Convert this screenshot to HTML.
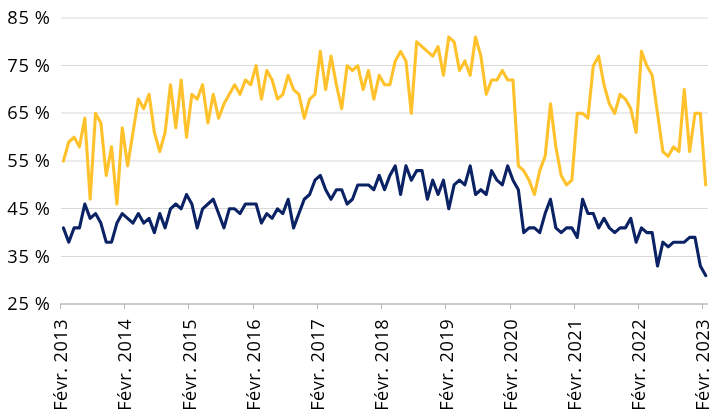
<!DOCTYPE html>
<html><head><meta charset="utf-8"><style>
html,body{margin:0;padding:0;background:#fff;}
body{width:718px;height:417px;overflow:hidden;}
svg{display:block;}
.yl{font-family:'Open Sans','Liberation Sans',sans-serif;font-size:18.3px;letter-spacing:0.6px;fill:#000;}
.xl{font-family:'Open Sans','Liberation Sans',sans-serif;font-size:18.2px;letter-spacing:0.45px;fill:#000;}
</style></head><body>
<svg width="718" height="417" viewBox="0 0 718 417">
<line x1="61" x2="708" y1="18.00" y2="18.00" stroke="#D9D9D9" stroke-width="1"/>
<line x1="61" x2="708" y1="65.50" y2="65.50" stroke="#D9D9D9" stroke-width="1"/>
<line x1="61" x2="708" y1="113.00" y2="113.00" stroke="#D9D9D9" stroke-width="1"/>
<line x1="61" x2="708" y1="161.00" y2="161.00" stroke="#D9D9D9" stroke-width="1"/>
<line x1="61" x2="708" y1="208.50" y2="208.50" stroke="#D9D9D9" stroke-width="1"/>
<line x1="61" x2="708" y1="256.50" y2="256.50" stroke="#D9D9D9" stroke-width="1"/>
<rect x="61" y="303" width="647" height="2" fill="#CCCCCC"/>
<rect x="60" y="303.5" width="1" height="5.5" fill="#B6B6B6"/>
<rect x="124" y="303.5" width="1" height="5.5" fill="#B6B6B6"/>
<rect x="188" y="303.5" width="1" height="5.5" fill="#B6B6B6"/>
<rect x="253" y="303.5" width="1" height="5.5" fill="#B6B6B6"/>
<rect x="317" y="303.5" width="1" height="5.5" fill="#B6B6B6"/>
<rect x="381" y="303.5" width="1" height="5.5" fill="#B6B6B6"/>
<rect x="445" y="303.5" width="1" height="5.5" fill="#B6B6B6"/>
<rect x="510" y="303.5" width="1" height="5.5" fill="#B6B6B6"/>
<rect x="574" y="303.5" width="1" height="5.5" fill="#B6B6B6"/>
<rect x="638" y="303.5" width="1" height="5.5" fill="#B6B6B6"/>
<rect x="702" y="303.5" width="1" height="5.5" fill="#B6B6B6"/>
<polyline points="63.40,161.10 68.75,142.02 74.11,137.25 79.46,146.79 84.81,118.17 90.16,199.26 95.52,113.40 100.87,122.94 106.22,175.41 111.57,146.79 116.92,204.03 122.28,127.71 127.63,165.87 132.98,132.48 138.34,99.09 143.69,108.63 149.04,94.32 154.39,132.48 159.75,151.56 165.10,132.48 170.45,84.78 175.80,127.71 181.16,80.01 186.51,137.25 191.86,94.32 197.21,99.09 202.56,84.78 207.92,122.94 213.27,94.32 218.62,118.17 223.97,103.86 229.33,94.32 234.68,84.78 240.03,94.32 245.39,80.01 250.74,84.78 256.09,65.70 261.44,99.09 266.80,70.47 272.15,80.01 277.50,99.09 282.85,94.32 288.20,75.24 293.56,89.55 298.91,94.32 304.26,118.17 309.62,99.09 314.97,94.32 320.32,51.39 325.67,89.55 331.02,56.16 336.38,84.78 341.73,108.63 347.08,65.70 352.44,70.47 357.79,65.70 363.14,89.55 368.49,70.47 373.84,99.09 379.20,75.24 384.55,84.78 389.90,84.78 395.25,60.93 400.61,51.39 405.96,60.93 411.31,113.40 416.66,41.85 422.02,46.62 427.37,51.39 432.72,56.16 438.07,46.62 443.43,75.24 448.78,37.08 454.13,41.85 459.48,70.47 464.84,60.93 470.19,75.24 475.54,37.08 480.89,56.16 486.25,94.32 491.60,80.01 496.95,80.01 502.31,70.47 507.66,80.01 513.01,80.01 518.36,165.87 523.72,170.64 529.07,180.18 534.42,194.49 539.77,170.64 545.12,156.33 550.48,103.86 555.83,146.79 561.18,175.41 566.53,184.95 571.89,180.18 577.24,113.40 582.59,113.40 587.94,118.17 593.30,65.70 598.65,56.16 604.00,84.78 609.36,103.86 614.71,113.40 620.06,94.32 625.41,99.09 630.76,108.63 636.12,132.48 641.47,51.39 646.82,65.70 652.17,75.24 657.53,113.40 662.88,151.56 668.23,156.33 673.59,146.79 678.94,151.56 684.29,89.55 689.64,151.56 695.00,113.40 700.35,113.40 705.70,184.95" fill="none" stroke="#FFC22C" stroke-width="3.1" stroke-linejoin="round" stroke-linecap="round"/>
<polyline points="63.40,227.88 68.75,242.19 74.11,227.88 79.46,227.88 84.81,204.03 90.16,218.34 95.52,213.57 100.87,223.11 106.22,242.19 111.57,242.19 116.92,223.11 122.28,213.57 127.63,218.34 132.98,223.11 138.34,213.57 143.69,223.11 149.04,218.34 154.39,232.65 159.75,213.57 165.10,227.88 170.45,208.80 175.80,204.03 181.16,208.80 186.51,194.49 191.86,204.03 197.21,227.88 202.56,208.80 207.92,204.03 213.27,199.26 218.62,213.57 223.97,227.88 229.33,208.80 234.68,208.80 240.03,213.57 245.39,204.03 250.74,204.03 256.09,204.03 261.44,223.11 266.80,213.57 272.15,218.34 277.50,208.80 282.85,213.57 288.20,199.26 293.56,227.88 298.91,213.57 304.26,199.26 309.62,194.49 314.97,180.18 320.32,175.41 325.67,189.72 331.02,199.26 336.38,189.72 341.73,189.72 347.08,204.03 352.44,199.26 357.79,184.95 363.14,184.95 368.49,184.95 373.84,189.72 379.20,175.41 384.55,189.72 389.90,175.41 395.25,165.87 400.61,194.49 405.96,165.87 411.31,180.18 416.66,170.64 422.02,170.64 427.37,199.26 432.72,180.18 438.07,194.49 443.43,180.18 448.78,208.80 454.13,184.95 459.48,180.18 464.84,184.95 470.19,165.87 475.54,194.49 480.89,189.72 486.25,194.49 491.60,170.64 496.95,180.18 502.31,184.95 507.66,165.87 513.01,180.18 518.36,189.72 523.72,232.65 529.07,227.88 534.42,227.88 539.77,232.65 545.12,213.57 550.48,199.26 555.83,227.88 561.18,232.65 566.53,227.88 571.89,227.88 577.24,237.42 582.59,199.26 587.94,213.57 593.30,213.57 598.65,227.88 604.00,218.34 609.36,227.88 614.71,232.65 620.06,227.88 625.41,227.88 630.76,218.34 636.12,242.19 641.47,227.88 646.82,232.65 652.17,232.65 657.53,266.04 662.88,242.19 668.23,246.96 673.59,242.19 678.94,242.19 684.29,242.19 689.64,237.42 695.00,237.42 700.35,266.04 705.70,275.58" fill="none" stroke="#0B2364" stroke-width="3.1" stroke-linejoin="round" stroke-linecap="round"/>
<text x="50.5" y="24.00" text-anchor="end" class="yl">85 %</text>
<text x="50.5" y="71.70" text-anchor="end" class="yl">75 %</text>
<text x="50.5" y="119.40" text-anchor="end" class="yl">65 %</text>
<text x="50.5" y="167.10" text-anchor="end" class="yl">55 %</text>
<text x="50.5" y="214.80" text-anchor="end" class="yl">45 %</text>
<text x="50.5" y="262.50" text-anchor="end" class="yl">35 %</text>
<text x="50.5" y="310.20" text-anchor="end" class="yl">25 %</text>
<text transform="translate(66.80,319.0) rotate(-90)" text-anchor="end" class="xl">Févr. 2013</text>
<text transform="translate(131.01,319.0) rotate(-90)" text-anchor="end" class="xl">Févr. 2014</text>
<text transform="translate(196.33,319.0) rotate(-90)" text-anchor="end" class="xl">Févr. 2015</text>
<text transform="translate(260.44,319.0) rotate(-90)" text-anchor="end" class="xl">Févr. 2016</text>
<text transform="translate(323.83,319.0) rotate(-90)" text-anchor="end" class="xl">Févr. 2017</text>
<text transform="translate(388.05,319.0) rotate(-90)" text-anchor="end" class="xl">Févr. 2018</text>
<text transform="translate(453.26,319.0) rotate(-90)" text-anchor="end" class="xl">Févr. 2019</text>
<text transform="translate(517.48,319.0) rotate(-90)" text-anchor="end" class="xl">Févr. 2020</text>
<text transform="translate(580.87,319.0) rotate(-90)" text-anchor="end" class="xl">Févr. 2021</text>
<text transform="translate(645.08,319.0) rotate(-90)" text-anchor="end" class="xl">Févr. 2022</text>
<text transform="translate(709.30,319.0) rotate(-90)" text-anchor="end" class="xl">Févr. 2023</text>
</svg>
</body></html>
